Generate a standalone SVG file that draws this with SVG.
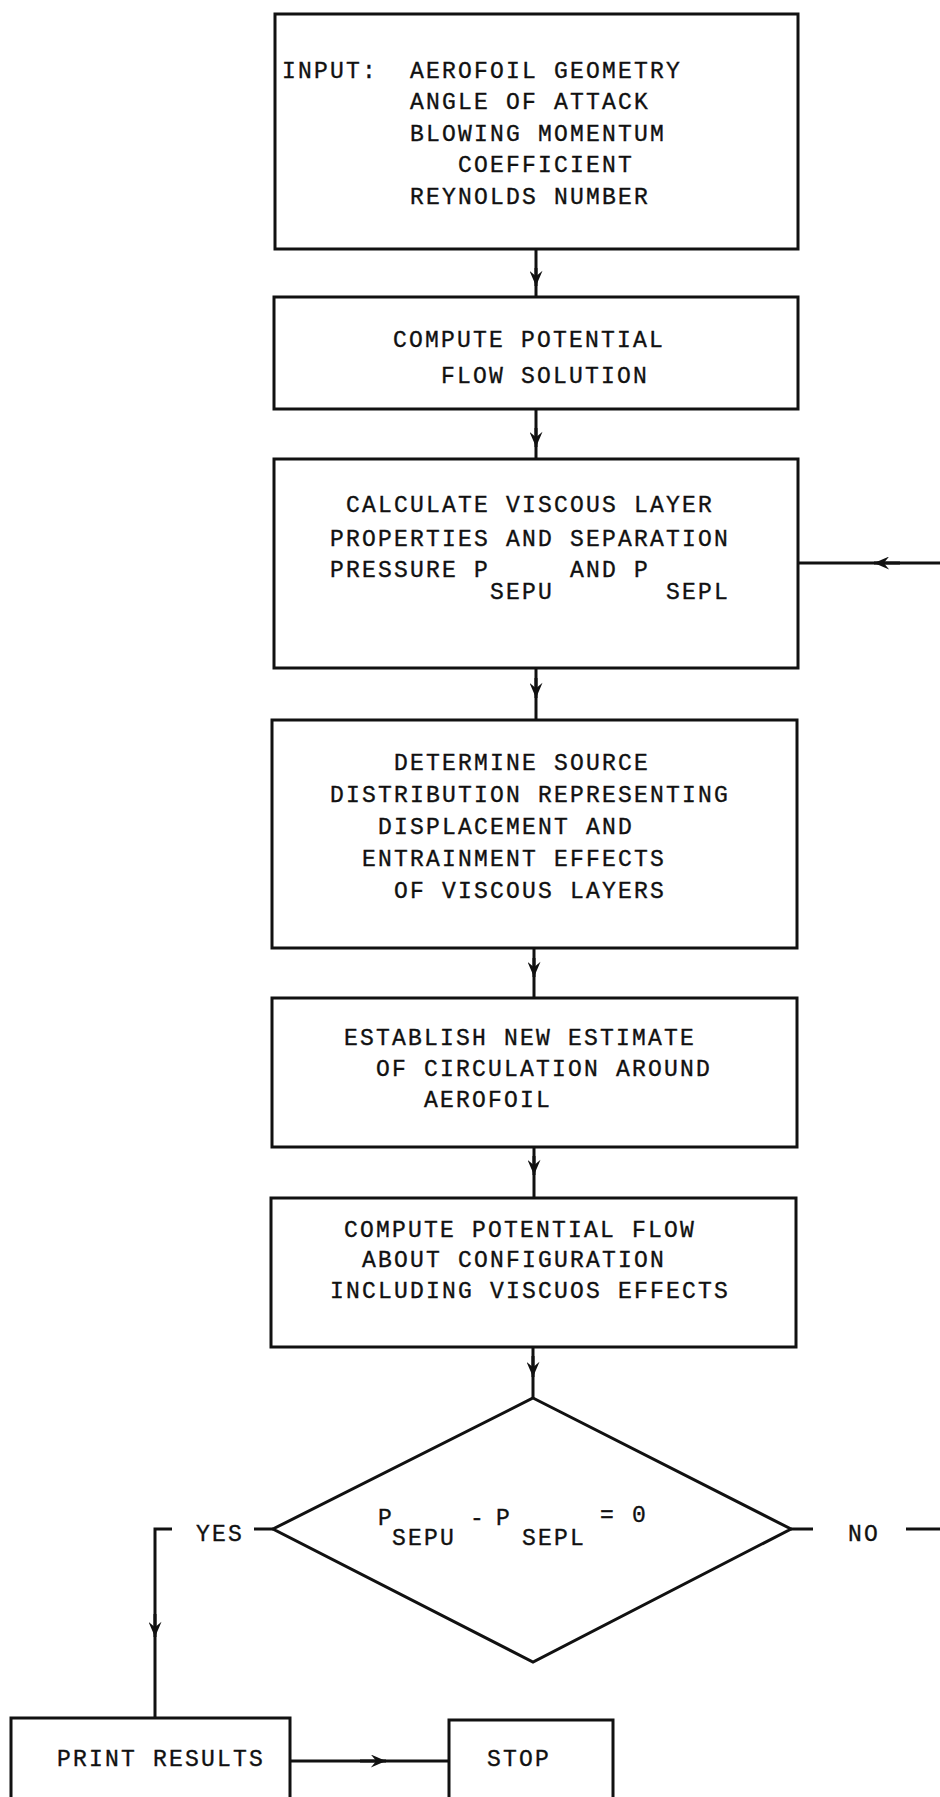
<svg xmlns="http://www.w3.org/2000/svg" width="940" height="1797" viewBox="0 0 940 1797">
<style>
.box{fill:#fff;stroke:#111;stroke-width:3}
.ln{fill:none;stroke:#111;stroke-width:3}
.t{font-family:"Liberation Mono","DejaVu Sans Mono",monospace;font-size:23px;letter-spacing:2.2px;fill:#111;stroke:#111;stroke-width:0.35}
</style>
<defs>
<marker id="ah" viewBox="0 0 14 12" refX="14" refY="6" markerWidth="16" markerHeight="13" markerUnits="userSpaceOnUse" orient="auto">
<path d="M0,0 L14,6 L0,12 L5,6 Z" fill="#111"/>
</marker>
</defs>
<rect width="940" height="1797" fill="#fff"/>
<g id="connectors">
<line class="ln" x1="536" y1="249" x2="536" y2="297"/>
<path class="ln" d="M536,268 L536,286" marker-end="url(#ah)"/>
<line class="ln" x1="536" y1="409" x2="536" y2="459"/>
<path class="ln" d="M536,428 L536,447" marker-end="url(#ah)"/>
<line class="ln" x1="536" y1="668" x2="536" y2="720"/>
<path class="ln" d="M536,678 L536,698" marker-end="url(#ah)"/>
<line class="ln" x1="534" y1="948" x2="534" y2="998"/>
<path class="ln" d="M534,958 L534,977" marker-end="url(#ah)"/>
<line class="ln" x1="534" y1="1147" x2="534" y2="1198"/>
<path class="ln" d="M534,1156 L534,1175" marker-end="url(#ah)"/>
<line class="ln" x1="533" y1="1347" x2="533" y2="1398"/>
<path class="ln" d="M533,1356 L533,1377" marker-end="url(#ah)"/>
<line class="ln" x1="273" y1="1529" x2="254" y2="1529"/>
<path class="ln" d="M172,1529 L155,1529 L155,1718"/>
<path class="ln" d="M155,1614 L155,1637" marker-end="url(#ah)"/>
<line class="ln" x1="791" y1="1529" x2="813" y2="1529"/>
<line class="ln" x1="906" y1="1529" x2="940" y2="1529"/>
<line class="ln" x1="940" y1="563" x2="798" y2="563"/>
<path class="ln" d="M900,563 L874,563" marker-end="url(#ah)"/>
<line class="ln" x1="290" y1="1761" x2="449" y2="1761"/>
<path class="ln" d="M360,1761 L386,1761" marker-end="url(#ah)"/>
</g>
<g id="n1">
<rect class="box" x="275" y="14" width="523" height="235"/>
<text class="t" x="282" y="78" xml:space="preserve">INPUT:  AEROFOIL GEOMETRY</text>
<text class="t" x="410" y="109">ANGLE OF ATTACK</text>
<text class="t" x="410" y="141">BLOWING MOMENTUM</text>
<text class="t" x="458" y="172">COEFFICIENT</text>
<text class="t" x="410" y="204">REYNOLDS NUMBER</text>
</g>
<g id="n2">
<rect class="box" x="274" y="297" width="524" height="112"/>
<text class="t" x="393" y="347">COMPUTE POTENTIAL</text>
<text class="t" x="441" y="383">FLOW SOLUTION</text>
</g>
<g id="n3">
<rect class="box" x="274" y="459" width="524" height="209"/>
<text class="t" x="346" y="512">CALCULATE VISCOUS LAYER</text>
<text class="t" x="330" y="546">PROPERTIES AND SEPARATION</text>
<text class="t" x="330" y="577">PRESSURE P</text>
<text class="t" x="490" y="599">SEPU</text>
<text class="t" x="570" y="577">AND P</text>
<text class="t" x="666" y="599">SEPL</text>
</g>
<g id="n4">
<rect class="box" x="272" y="720" width="525" height="228"/>
<text class="t" x="394" y="770">DETERMINE SOURCE</text>
<text class="t" x="330" y="802">DISTRIBUTION REPRESENTING</text>
<text class="t" x="378" y="834">DISPLACEMENT AND</text>
<text class="t" x="362" y="866">ENTRAINMENT EFFECTS</text>
<text class="t" x="394" y="898">OF VISCOUS LAYERS</text>
</g>
<g id="n5">
<rect class="box" x="272" y="998" width="525" height="149"/>
<text class="t" x="344" y="1045">ESTABLISH NEW ESTIMATE</text>
<text class="t" x="376" y="1076">OF CIRCULATION AROUND</text>
<text class="t" x="424" y="1107">AEROFOIL</text>
</g>
<g id="n6">
<rect class="box" x="271" y="1198" width="525" height="149"/>
<text class="t" x="344" y="1237">COMPUTE POTENTIAL FLOW</text>
<text class="t" x="362" y="1267">ABOUT CONFIGURATION</text>
<text class="t" x="330" y="1298">INCLUDING VISCUOS EFFECTS</text>
</g>
<g id="n7">
<polygon class="box" points="533,1398 791,1529 533,1662 273,1529"/>
<text class="t" x="378" y="1525">P</text>
<text class="t" x="392" y="1545">SEPU</text>
<text class="t" x="470" y="1525">-</text>
<text class="t" x="496" y="1525">P</text>
<text class="t" x="522" y="1545">SEPL</text>
<text class="t" x="600" y="1522">= 0</text>
</g>
<g id="lbl">
<text class="t" x="196" y="1541">YES</text>
<text class="t" x="848" y="1541">NO</text>
</g>
<g id="n8">
<rect class="box" x="11" y="1718" width="279" height="100"/>
<text class="t" x="57" y="1766">PRINT RESULTS</text>
</g>
<g id="n9">
<rect class="box" x="449" y="1720" width="164" height="100"/>
<text class="t" x="487" y="1766">STOP</text>
</g>
</svg>
